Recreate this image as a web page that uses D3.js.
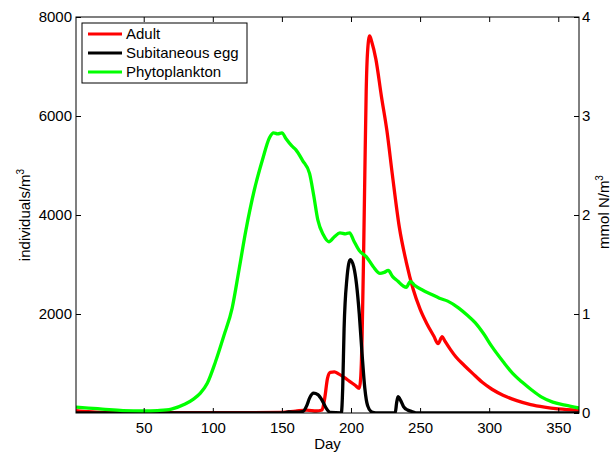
<!DOCTYPE html>
<html>
<head>
<meta charset="utf-8">
<script src="https://cdn.jsdelivr.net/npm/d3@7"></script>
<style>
  body { margin: 0; background: #fff; }
  svg { font-family: "Liberation Sans", Arial, sans-serif; }
</style>
</head>
<body>
<svg id="chart" width="612" height="453"></svg>
<script>
// day, value  (adult & egg in individuals/m3, phyto in mmol N/m3)
const adultDays = [1, 10, 20, 40, 100, 150, 160, 168, 175, 179, 181, 183, 185, 188, 191, 195, 199, 203, 206, 207, 208, 209, 210, 211, 212, 213.5, 215, 218, 222, 226, 230, 235, 240, 245, 250, 255, 260, 263, 266, 268, 272, 276, 282, 288, 295, 302, 310, 320, 330, 340, 350, 365];
const adultVals = [50, 25, 10, 5, 5, 10, 40, 60, 40, 60, 300, 700, 820, 830, 790, 720, 640, 560, 500, 700, 1500, 3000, 4800, 6500, 7300, 7620, 7500, 7150, 6400, 5700, 4800, 3750, 3050, 2500, 2100, 1800, 1550, 1400, 1540, 1450, 1280, 1130, 960, 800, 620, 480, 360, 250, 170, 120, 85, 55];

const eggDays = [1, 150, 155, 160, 165, 168, 170, 173, 176, 179, 182, 185, 193, 194, 195, 197, 199.5, 202, 204, 206, 208, 210, 212, 215, 218, 232, 233, 234, 236, 238, 241, 244, 248, 365];
const eggVals = [0, 0, 20, 15, 30, 150, 300, 400, 370, 260, 100, 10, 0, 500, 1700, 2700, 3100, 2950, 2600, 2000, 1200, 500, 150, 20, 0, 0, 200, 330, 250, 130, 60, 30, 0, 0];

const phytoDays = [1, 10, 20, 35, 50, 60, 70, 80, 86, 91, 96, 102, 108, 114, 119, 124, 130, 136, 141, 144, 147, 150, 153, 157, 160, 165, 170, 173, 176, 180, 184, 188, 192, 196, 199, 202, 206, 211, 216, 221, 224, 227, 230, 234, 238, 240, 243, 246, 252, 258, 264, 270, 278, 284, 290, 296, 302, 310, 317, 324, 331, 338, 346, 355, 365];
const phytoVals = [0.06, 0.05, 0.04, 0.025, 0.02, 0.025, 0.04, 0.09, 0.14, 0.2, 0.3, 0.52, 0.78, 1.06, 1.45, 1.85, 2.25, 2.56, 2.78, 2.83, 2.82, 2.83, 2.77, 2.7, 2.66, 2.55, 2.42, 2.2, 1.95, 1.8, 1.73, 1.78, 1.82, 1.81, 1.82, 1.74, 1.64, 1.58, 1.48, 1.41, 1.42, 1.44, 1.38, 1.33, 1.28, 1.27, 1.33, 1.29, 1.24, 1.2, 1.16, 1.13, 1.06, 0.99, 0.91, 0.8, 0.67, 0.52, 0.4, 0.31, 0.23, 0.16, 0.11, 0.08, 0.05];

const xTicks = [50, 100, 150, 200, 250, 300, 350];
const yLeftTicks = [2000, 4000, 6000, 8000];
const yRightTicks = [0, 1, 2, 3, 4];

const legendNames = ["Adult", "Subitaneous egg", "Phytoplankton"];
const legendColors = ["#ff0000", "#000000", "#00ff00"];

const svg = d3.select("#chart");
const L = 76, R = 579, T = 17, B = 413;

const x = d3.scaleLinear().domain([1, 365]).range([L, R]);
const yL = d3.scaleLinear().domain([0, 8000]).range([B, T]);
const yR = d3.scaleLinear().domain([0, 4]).range([B, T]);

svg.append("clipPath").attr("id", "clip")
  .append("rect").attr("x", L).attr("y", T).attr("width", R - L).attr("height", B - T);

const zip = (a, b) => a.map((d, i) => [d, b[i]]);

const lineL = d3.line().x(d => x(d[0])).y(d => yL(d[1])).curve(d3.curveMonotoneX);
const lineR = d3.line().x(d => x(d[0])).y(d => yR(d[1])).curve(d3.curveMonotoneX);

const plot = svg.append("g").attr("clip-path", "url(#clip)");
plot.append("path").datum(zip(adultDays, adultVals)).attr("d", lineL)
  .attr("fill", "none").attr("stroke", legendColors[0]).attr("stroke-width", 3.3);
plot.append("path").datum(zip(eggDays, eggVals)).attr("d", lineL)
  .attr("fill", "none").attr("stroke", legendColors[1]).attr("stroke-width", 3.3);
plot.append("path").datum(zip(phytoDays, phytoVals)).attr("d", lineR)
  .attr("fill", "none").attr("stroke", legendColors[2]).attr("stroke-width", 3.3);

// box
svg.append("rect").attr("x", L).attr("y", T).attr("width", R - L).attr("height", B - T)
  .attr("fill", "none").attr("stroke", "#000").attr("stroke-width", 1);

function styleAxis(g) {
  g.select(".domain").remove();
  g.selectAll("text").attr("font-size", 15).attr("fill", "#000").attr("font-family", null);
  g.selectAll("line").attr("stroke", "#000");
}

svg.append("g").attr("transform", `translate(0,${B})`)
  .call(d3.axisBottom(x).tickValues(xTicks).tickSize(-5).tickPadding(9).tickFormat(d3.format("d")))
  .call(styleAxis);
svg.append("g").attr("transform", `translate(0,${T})`)
  .call(d3.axisTop(x).tickValues(xTicks).tickSize(-5).tickFormat(""))
  .call(styleAxis);
svg.append("g").attr("transform", `translate(${L},0)`)
  .call(d3.axisLeft(yL).tickValues(yLeftTicks).tickSize(-5).tickPadding(4).tickFormat(d3.format("d")))
  .call(styleAxis);
svg.append("g").attr("transform", `translate(${R},0)`)
  .call(d3.axisRight(yR).tickValues(yRightTicks).tickSize(-5).tickPadding(3).tickFormat(d3.format("d")))
  .call(styleAxis);

// axis titles
svg.append("text").attr("x", (L + R) / 2).attr("y", 449).attr("text-anchor", "middle")
  .attr("font-size", 15).text("Day");

const yl = svg.append("text").attr("transform", "translate(30,215) rotate(-90)")
  .attr("text-anchor", "middle").attr("font-size", 15);
yl.append("tspan").text("individuals/m");
yl.append("tspan").attr("dy", -6).attr("font-size", 10).text("3");

const yr = svg.append("text").attr("transform", "translate(609,212) rotate(-90)")
  .attr("text-anchor", "middle").attr("font-size", 15);
yr.append("tspan").text("mmol N/m");
yr.append("tspan").attr("dy", -6).attr("font-size", 10).text("3");

// legend
const lg = svg.append("g");
lg.append("rect").attr("x", 82).attr("y", 23).attr("width", 165).attr("height", 60)
  .attr("fill", "#fff").attr("stroke", "#000").attr("stroke-width", 1);
legendNames.forEach((n, i) => {
  const yy = 34 + i * 19;
  lg.append("line").attr("x1", 88).attr("x2", 122).attr("y1", yy).attr("y2", yy)
    .attr("stroke", legendColors[i]).attr("stroke-width", 3);
  lg.append("text").attr("x", 126).attr("y", yy + 5).attr("font-size", 15).text(n);
});
</script>
</body>
</html>
